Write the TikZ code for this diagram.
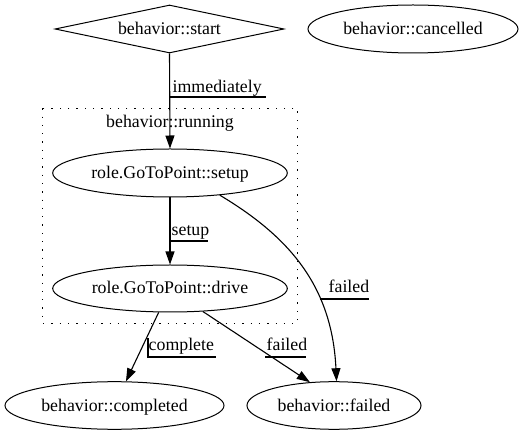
\documentclass[tikz,border=0pt]{standalone}
\usepackage{fontspec}
\setmainfont{Liberation Serif}
\usetikzlibrary{shapes.geometric,arrows.meta}
\begin{document}
\begin{tikzpicture}[x=1pt,y=-1pt,
  every node/.style={font=\fontsize{17.8}{20}\selectfont},
  state/.style={draw,ellipse,line width=1pt,inner sep=0pt,text height=14pt,text depth=3pt},
  startbox/.style={draw,diamond,aspect=4.77,line width=1pt,inner sep=0pt,minimum width=229pt,minimum height=48pt,text height=14pt,text depth=3pt},
  edge/.style={line width=1.1pt,-{Triangle[length=13pt,width=9pt]}},
  uline/.style={line width=1.1pt},
  lbl/.style={anchor=base west,inner sep=0pt},
  cluster/.style={line width=1.2pt,dash pattern=on 1.3pt off 7pt}
]
\useasboundingbox (0,0) rectangle (530,435);
% cluster
\draw[cluster] (42.3,108.3) rectangle (297.3,323.3);
\node[anchor=base,inner sep=0pt] (runlbl) at (170,127.7) {behavior::running};
% nodes
\node[startbox] (start) at (169.5,29) {behavior::start};
\node[state,minimum width=210pt,minimum height=48pt] (cancelled) at (413,29) {behavior::cancelled};
\node[state,minimum width=234.6pt,minimum height=48pt] (setup) at (170,173) {role.GoToPoint::setup};
\node[state,minimum width=234.6pt,minimum height=47pt] (drive) at (170,288.5) {role.GoToPoint::drive};
\node[state,minimum width=219pt,minimum height=47.6pt] (completed) at (114.5,405.5) {behavior::completed};
\node[state,minimum width=174pt,minimum height=47.6pt] (failed) at (334,405.5) {behavior::failed};
% edges
\draw[edge] (start.south) -- (setup.north);
\draw[edge] (setup.south) -- (drive.north);
\draw[edge] (setup.-24.6) .. controls (288,236) and (332,285) .. (failed.84);
\draw[edge] (drive) -- (completed);
\draw[edge] (drive.-35.5) -- (failed.136);
% labels
\node[lbl] (limm) at (172.5,93) {immediately};
\draw[uline] (170,97) -- (266,97);
\node[lbl] (lsetup) at (171.5,236) {setup};
\draw[uline] (170,241) -- (208,241);
\node[lbl] (lfail1) at (328.5,293) {failed};
\draw[uline] (320,299) -- (369,299);
\node[lbl] (lcomp) at (148.5,351) {complete};
\draw[uline] (148,338) -- (148,357) -- (216,357);
\node[lbl] (lfail2) at (266.5,351) {failed};
\draw[uline] (265,357) -- (306,357);
\end{tikzpicture}
\end{document}
